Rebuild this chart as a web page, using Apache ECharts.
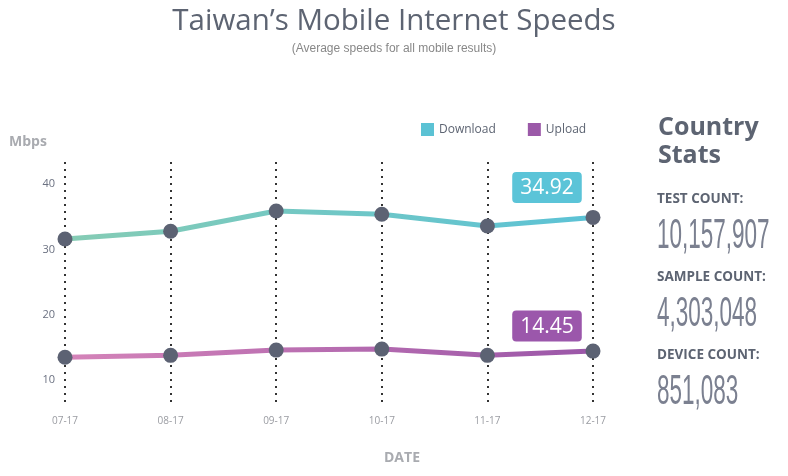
<!DOCTYPE html>
<html>
<head>
<meta charset="utf-8">
<script src="https://cdn.jsdelivr.net/npm/echarts@6/dist/echarts.min.js"></script>
<style>html,body{margin:0;padding:0;background:#fff;}#c{width:788px;height:476px;}</style>
</head>
<body>
<div id="c"></div>
<script>
const months = ['07-17','08-17','09-17','10-17','11-17','12-17'];
const download = [31.6, 32.8, 35.9, 35.4, 33.6, 34.92];
const upload = [13.5, 13.8, 14.6, 14.75, 13.8, 14.45];
const yTicks = [10, 20, 30, 40];
const statLabels = ['TEST COUNT:', 'SAMPLE COUNT:', 'DEVICE COUNT:'];
const statValues = ['10,157,907', '4,303,048', '851,083'];

const chart = echarts.init(document.getElementById('c'));
const grad = (a, b) => new echarts.graphic.LinearGradient(0, 0, 1, 0, [{offset:0,color:a},{offset:1,color:b}]);

function withLastLabel(arr, bg, offY) {
  return arr.map((v, i) => i === arr.length - 1 ? {
    value: v,
    label: {show:true, formatter: p => p.value.toFixed(2), position:'top', offset:[-46, offY],
            color:'#fff', fontSize:21, backgroundColor:bg, padding:[6,8,4,8], borderRadius:4,
            fontFamily:'"Open Sans", sans-serif'}
  } : v);
}

const statGraphics = [];
statLabels.forEach((l, i) => {
  const y0 = 192 + i * 78;
  statGraphics.push({type:'text', left:657, top:y0, style:{text:l, fill:'#5d6472', font:'bold 13.5px "Open Sans", sans-serif'}});
  statGraphics.push({type:'text', x:657, y:y0 + 23, scaleY:1.85, style:{text:statValues[i], fill:'#7b8090', font:'22.5px "Liberation Sans Narrow", sans-serif'}});
});

chart.setOption({
  backgroundColor:'#fff',
  title:[
    {text:'Taiwan\u2019s Mobile Internet Speeds', left:'center', top:2, textStyle:{fontSize:29.5, fontWeight:'normal', color:'#5d6472', fontFamily:'"Open Sans", sans-serif'}, subtext:'(Average speeds for all mobile results)', subtextStyle:{fontSize:12, color:'#888'}, itemGap:6},
    {text:'Mbps', left:4, top:130, textStyle:{fontSize:14, fontWeight:'bold', color:'#a9abb0', fontFamily:'"Open Sans", sans-serif'}},
    {text:'DATE', left:379, top:446, textStyle:{fontSize:14, fontWeight:'bold', color:'#a9abb0', fontFamily:'"Open Sans", sans-serif'}},
    {text:'Country', left:653, top:110, textStyle:{fontSize:25, fontWeight:'bold', color:'#5d6472', fontFamily:'"Open Sans", sans-serif'}},
    {text:'Stats', left:653, top:138, textStyle:{fontSize:25, fontWeight:'bold', color:'#5d6472', fontFamily:'"Open Sans", sans-serif'}}
  ],
  legend:{
    left:416, top:118, itemWidth:13, itemHeight:13, itemGap:32, icon:'rect',
    textStyle:{color:'#5d6472', fontSize:12, fontFamily:'"Open Sans", sans-serif'},
    data:[{name:'Download', itemStyle:{color:'#5bc2d4'}}, {name:'Upload', itemStyle:{color:'#9b59a8'}}]
  },
  grid:{left:65, right:195, top:162, bottom:73},
  xAxis:{
    type:'category', data:months, boundaryGap:false,
    axisLine:{show:false}, axisTick:{show:false},
    axisLabel:{color:'#9a9ca2', fontSize:10, margin:13, fontFamily:'"Open Sans", sans-serif'},
    splitLine:{show:true, lineStyle:{color:'#333', width:2, type:[2,5]}}
  },
  yAxis:{
    type:'value', min:6.5, max:43.4,
    axisLine:{show:false}, axisTick:{show:false}, splitLine:{show:false},
    axisLabel:{customValues:yTicks, color:'#6a7080', fontSize:11, margin:10, fontFamily:'"Open Sans", sans-serif'}
  },
  series:[
    {name:'Download', type:'line', data:withLastLabel(download, '#5bc4d8', -2), symbol:'circle', symbolSize:15,
     itemStyle:{color:'#5c6273'}, lineStyle:{width:5, color:grad('#86ccb4','#5bc2d6')}},
    {name:'Upload', type:'line', data:withLastLabel(upload, '#9b57ab', 3), symbol:'circle', symbolSize:15,
     itemStyle:{color:'#5c6273'}, lineStyle:{width:5, color:grad('#d584b9','#9a56a8')}}
  ],
  graphic:statGraphics
});
</script>
</body>
</html>
